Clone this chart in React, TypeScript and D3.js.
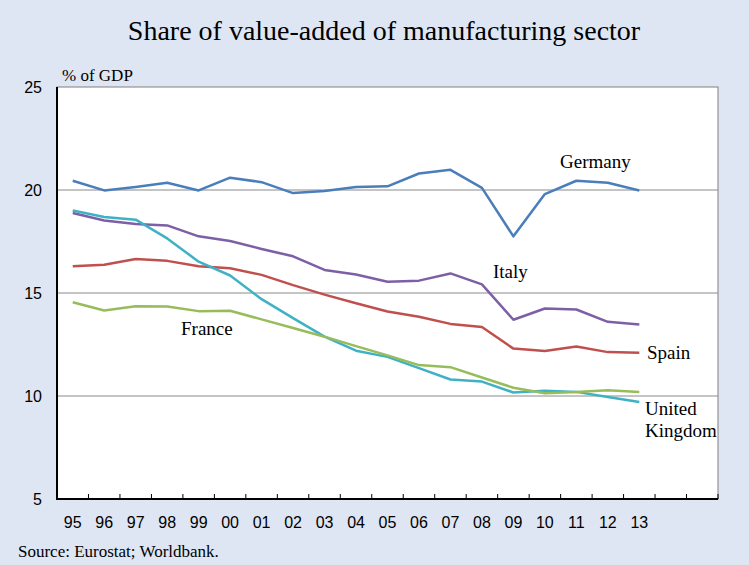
import React from "react";
import * as d3 from "d3";

const W = 749;
const H = 565;

const years = ["95","96","97","98","99","00","01","02","03","04","05","06","07","08","09","10","11","12","13"];
const slots = [...years, "e1", "e2"];
const yTicks = [5, 10, 15, 20, 25];
const gridVals = [10, 15, 20];

const germany = [20.45,19.98,20.15,20.35,19.98,20.6,20.38,19.85,19.95,20.15,20.18,20.8,20.98,20.1,17.75,19.8,20.45,20.35,19.98];
const italy = [18.88,18.52,18.35,18.28,17.75,17.52,17.14,16.78,16.12,15.9,15.55,15.6,15.95,15.42,13.7,14.25,14.2,13.6,13.47];
const spain = [16.3,16.37,16.65,16.56,16.3,16.2,15.88,15.38,14.92,14.5,14.1,13.85,13.5,13.35,12.3,12.18,12.4,12.13,12.1];
const uk = [19.0,18.69,18.56,17.65,16.52,15.85,14.7,13.78,12.88,12.2,11.9,11.35,10.8,10.7,10.17,10.25,10.2,9.95,9.71];
const france = [14.55,14.15,14.36,14.35,14.12,14.14,13.72,13.3,12.88,12.42,11.97,11.5,11.4,10.9,10.4,10.13,10.2,10.28,10.2];

const series = [
  { name: "Germany", values: germany, color: "#4a7ebb" },
  { name: "Italy", values: italy, color: "#7d5fa5" },
  { name: "Spain", values: spain, color: "#c0504d" },
  { name: "United Kingdom", values: uk, color: "#3fb1c5" },
  { name: "France", values: france, color: "#97bc5a" },
];

const labels = [
  { lines: ["Germany"], x: 560, y: 168 },
  { lines: ["Italy"], x: 493, y: 278 },
  { lines: ["Spain"], x: 647, y: 359 },
  { lines: ["United", "Kingdom"], x: 645, y: 415 },
  { lines: ["France"], x: 181, y: 335 },
];

const L = 57, R = 718, T = 87, B = 499;

export default function App() {
  const x = d3.scaleBand<string>().domain(slots).range([L, R]);
  const y = d3.scaleLinear().domain([5, 25]).range([B, T]);
  const line = d3
    .line<number>()
    .x((_, i) => (x(years[i]) as number) + x.bandwidth() / 2)
    .y((d) => y(d));
  const serif = "'Liberation Serif', 'Times New Roman', serif";
  const sans = "'Liberation Sans', Arial, sans-serif";
  return (
    <svg width={W} height={H} style={{ position: "absolute", left: 0, top: 0 }}>
      <rect x={0} y={0} width={W} height={H} fill="#dfe6f3" />
      <text x={384} y={40} textAnchor="middle" fontFamily={serif} fontSize={28} fill="#000">
        Share of value-added of manufacturing sector
      </text>
      <rect x={L} y={T} width={R - L} height={B - T} fill="#fff" stroke="#808080" strokeWidth={1} />
      {gridVals.map((v) => (
        <line key={v} x1={L} x2={R} y1={y(v)} y2={y(v)} stroke="#8a8a8a" strokeWidth={1} />
      ))}
      {series.map((s) => (
        <path key={s.name} d={line(s.values) as string} fill="none" stroke={s.color} strokeWidth={2.5} strokeLinejoin="round" />
      ))}
      <line x1={L} x2={L} y1={T} y2={B + 1} stroke="#000" strokeWidth={2} />
      <line x1={L - 1} x2={R} y1={B} y2={B} stroke="#000" strokeWidth={2} />
      {slots.map((s) => (
        <line key={s} x1={(x(s) as number) + x.bandwidth()} x2={(x(s) as number) + x.bandwidth()} y1={B} y2={B - 5} stroke="#000" strokeWidth={1} />
      ))}
      {years.map((yr) => (
        <text key={yr} x={(x(yr) as number) + x.bandwidth() / 2} y={528} textAnchor="middle" fontFamily={sans} fontSize={16} fill="#000">
          {yr}
        </text>
      ))}
      {yTicks.map((v) => (
        <text key={v} x={42} y={y(v) + 6} textAnchor="end" fontFamily={sans} fontSize={16} fill="#000">
          {v}
        </text>
      ))}
      <text x={62} y={81} fontFamily={serif} fontSize={17} fill="#000">% of GDP</text>
      {labels.map((l) => (
        <text key={l.lines[0]} x={l.x} y={l.y} fontFamily={serif} fontSize={19} fill="#000">
          {l.lines.map((t, i) => (
            <tspan key={t} x={l.x} dy={i === 0 ? 0 : 22}>{t}</tspan>
          ))}
        </text>
      ))}
      <text x={18} y={557} fontFamily={serif} fontSize={17} fill="#000">Source: Eurostat; Worldbank.</text>
    </svg>
  );
}
